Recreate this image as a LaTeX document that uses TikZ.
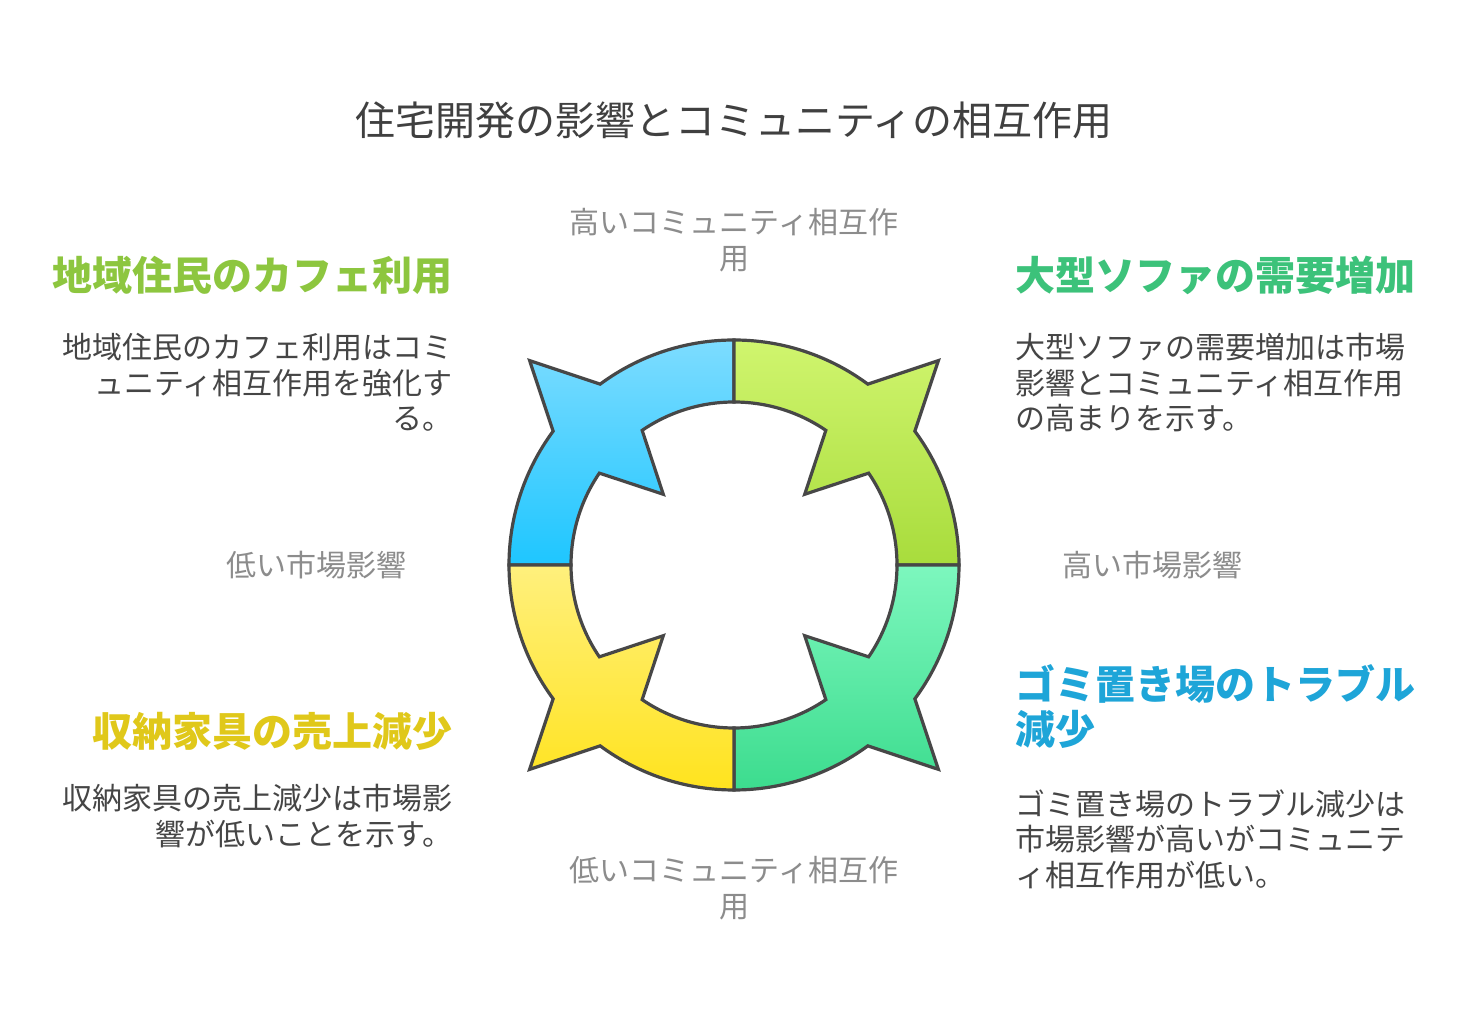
\documentclass[tikz,border=0pt]{standalone}
\usepackage{fontspec}
\setmainfont{Noto Sans CJK JP}
\begin{document}
\begin{tikzpicture}[x=0.5pt,y=0.5pt,
  body/.style={text=black!73,font=\fontsize{15}{17.8}\selectfont,inner sep=0pt},
  head/.style={font=\fontsize{20}{24}\selectfont\bfseries,inner sep=0pt},
  axis/.style={text=black!45,font=\fontsize{15}{18}\selectfont,inner sep=0pt,align=center},
  seg/.style={draw=black!72,line width=1.6pt,line join=miter}]
\useasboundingbox (0,0) rectangle (1469,-1036);
\fill[white] (0,0) rectangle (1469,-1036);
\node[text=black!75,font=\fontsize{20}{24}\selectfont,inner sep=0pt] (title) at (734,-120) {住宅開発の影響とコミュニティの相互作用};
\begin{scope}[shift={(734,-565)}]
\foreach \c/\tc/\bc/\nm in {135/{rgb,255:red,125;green,220;blue,255}/{rgb,255:red,30;green,198;blue,255}/tl,
  45/{rgb,255:red,208;green,245;blue,110}/{rgb,255:red,168;green,220;blue,60}/tr,
  -45/{rgb,255:red,125;green,247;blue,190}/{rgb,255:red,60;green,220;blue,142}/br,
  -135/{rgb,255:red,255;green,240;blue,125}/{rgb,255:red,255;green,227;blue,30}/bl}{
  \pgfmathsetmacro\a{\c+45}\pgfmathsetmacro\b{\c-45}
  \pgfmathsetmacro\oa{\c+8.5}\pgfmathsetmacro\ob{\c-8.5}
  \pgfmathsetmacro\ia{\c+10.7}\pgfmathsetmacro\ib{\c-10.7}
  \path[seg,top color=\tc,bottom color=\bc]
    (\a:225) arc[start angle=\a,end angle=\oa,radius=225] -- (\c:289) -- (\ob:225)
    arc[start angle=\ob,end angle=\b,radius=225] -- (\b:163)
    arc[start angle=\b,end angle=\ib,radius=163] -- (\c:100) -- (\ia:163)
    arc[start angle=\ia,end angle=\a,radius=163] -- cycle;
}
\end{scope}
% headings
\node[head,text={rgb,255:red,141;green,198;blue,63},anchor=east] (h1) at (453,-275) {地域住民のカフェ利用};
\node[body,align=right,anchor=north east] (b1) at (453,-333) {地域住民のカフェ利用はコミ\\ュニティ相互作用を強化す\\る。};
\node[head,text={rgb,255:red,60;green,194;blue,122},anchor=west] (h2) at (1015,-275) {大型ソファの需要増加};
\node[body,align=left,anchor=north west] (b2) at (1015,-333) {大型ソファの需要増加は市場\\影響とコミュニティ相互作用\\の高まりを示す。};
\node[head,text={rgb,255:red,30;green,165;blue,216},align=left,anchor=north west,font=\fontsize{20}{22.5}\selectfont\bfseries] (h3) at (1015,-664) {ゴミ置き場のトラブル\\減少};
\node[body,align=left,anchor=north west] (b3) at (1015,-789) {ゴミ置き場のトラブル減少は\\市場影響が高いがコミュニテ\\ィ相互作用が低い。};
\node[head,text={rgb,255:red,224;green,200;blue,26},anchor=east] (h4) at (453,-731) {収納家具の売上減少};
\node[body,align=right,anchor=north east] (b4) at (453,-784) {収納家具の売上減少は市場影\\響が低いことを示す。};
% axis labels
\node[axis] (ax1) at (734,-240) {高いコミュニティ相互作\\用};
\node[axis] (ax2) at (734,-888) {低いコミュニティ相互作\\用};
\node[axis] (ax3) at (316,-565) {低い市場影響};
\node[axis] (ax4) at (1152,-565) {高い市場影響};
\end{tikzpicture}
\end{document}
